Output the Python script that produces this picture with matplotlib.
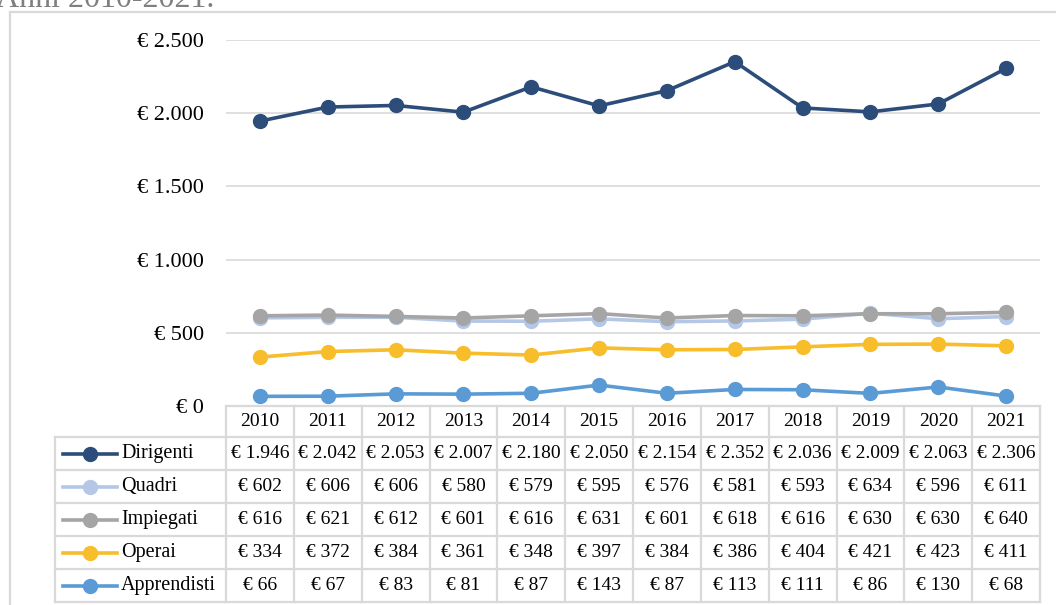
import matplotlib.pyplot as plt

# retribuzioni medie per qualifica, anni 2010-2021
anni = ["2010", "2011", "2012", "2013", "2014", "2015",
        "2016", "2017", "2018", "2019", "2020", "2021"]
qualifiche = ["Dirigenti", "Quadri", "Impiegati", "Operai", "Apprendisti"]
dirigenti = [1946, 2042, 2053, 2007, 2180, 2050, 2154, 2352, 2036, 2009, 2063, 2306]
quadri = [602, 606, 606, 580, 579, 595, 576, 581, 593, 634, 596, 611]
impiegati = [616, 621, 612, 601, 616, 631, 601, 618, 616, 630, 630, 640]
operai = [334, 372, 384, 361, 348, 397, 384, 386, 404, 421, 423, 411]
apprendisti = [66, 67, 83, 81, 87, 143, 87, 113, 111, 86, 130, 68]
valori_y = [0, 500, 1000, 1500, 2000, 2500]

serie = [dirigenti, quadri, impiegati, operai, apprendisti]
colori = ["#2C4D7A", "#B4C7E7", "#A5A5A5", "#F7BD2A", "#5B9BD5"]


def euro(v):
    return "€ " + f"{v:,}".replace(",", ".")


plt.rcParams["font.family"] = ["Liberation Serif", "DejaVu Serif"]

W, H = 1056, 605
fig = plt.figure(figsize=(W / 100, H / 100), dpi=100)

# area del grafico (pixel -> frazioni della figura)
x0, x1 = 226, 1040
y_top, y_zero = 40, 406
ax = fig.add_axes([x0 / W, 1 - y_zero / H, (x1 - x0) / W, (y_zero - y_top) / H])
ax.set_xlim(-0.5, len(anni) - 0.5)
ax.set_ylim(0, 2500)
for s in ax.spines.values():
    s.set_visible(False)
ax.set_xticks([])
ax.set_yticks(valori_y)
ax.set_yticklabels([euro(v) for v in valori_y], fontsize=16)
ax.tick_params(axis="y", length=0, pad=16)
for v in valori_y[1:]:
    ax.axhline(v, color="#D9D9D9", lw=1.2, zorder=1)

xs = range(len(anni))
for vals, col in zip(serie, colori):
    ax.plot(xs, vals, color=col, lw=2.6, marker="o", markersize=10,
            clip_on=False, zorder=3)

# tabella dati sotto il grafico, disegnata in coordinate pixel
tb = fig.add_axes([0, 0, 1, 1])
tb.set_xlim(0, W)
tb.set_ylim(H, 0)
tb.axis("off")
tb.patch.set_visible(False)

grid_c = "#D9D9D9"
col_w = (x1 - x0) / len(anni)
leg_x = 55
row_y = [406, 437, 470, 503, 536, 569, 602]

# linee orizzontali
tb.plot([x0, x1], [row_y[0], row_y[0]], color=grid_c, lw=1.6)
for y in row_y[1:]:
    tb.plot([leg_x, x1], [y, y], color=grid_c, lw=1.6)
# linee verticali
tb.plot([leg_x, leg_x], [row_y[1], row_y[-1]], color=grid_c, lw=1.6)
for i in range(len(anni) + 1):
    x = x0 + i * col_w
    tb.plot([x, x], [row_y[0], row_y[-1]], color=grid_c, lw=1.6)

for i, a in enumerate(anni):
    cx = x0 + (i + 0.5) * col_w
    tb.text(cx, (row_y[0] + row_y[1]) / 2, a, ha="center", va="center",
            fontsize=14)

for r, (nome, vals, col) in enumerate(zip(qualifiche, serie, colori)):
    cy = (row_y[r + 1] + row_y[r + 2]) / 2
    tb.plot([63, 117], [cy, cy], color=col, lw=2.6)
    tb.plot([90], [cy], color=col, marker="o", markersize=10)
    tb.text(121, cy, nome, ha="left", va="center", fontsize=14.5)
    for i, v in enumerate(vals):
        cx = x0 + (i + 0.5) * col_w
        tb.text(cx, cy, euro(v), ha="center", va="center", fontsize=14)

# cornice esterna e titolo tagliato in alto
tb.plot([10, 10], [12, H], color=grid_c, lw=1.6)
tb.plot([10, W], [12, 12], color=grid_c, lw=1.6)
tb.text(-4, 7, "Anni 2010-2021.", ha="left", va="baseline", fontsize=23,
        color="#7F7F7F")

fig.savefig("out.png", dpi=100)
